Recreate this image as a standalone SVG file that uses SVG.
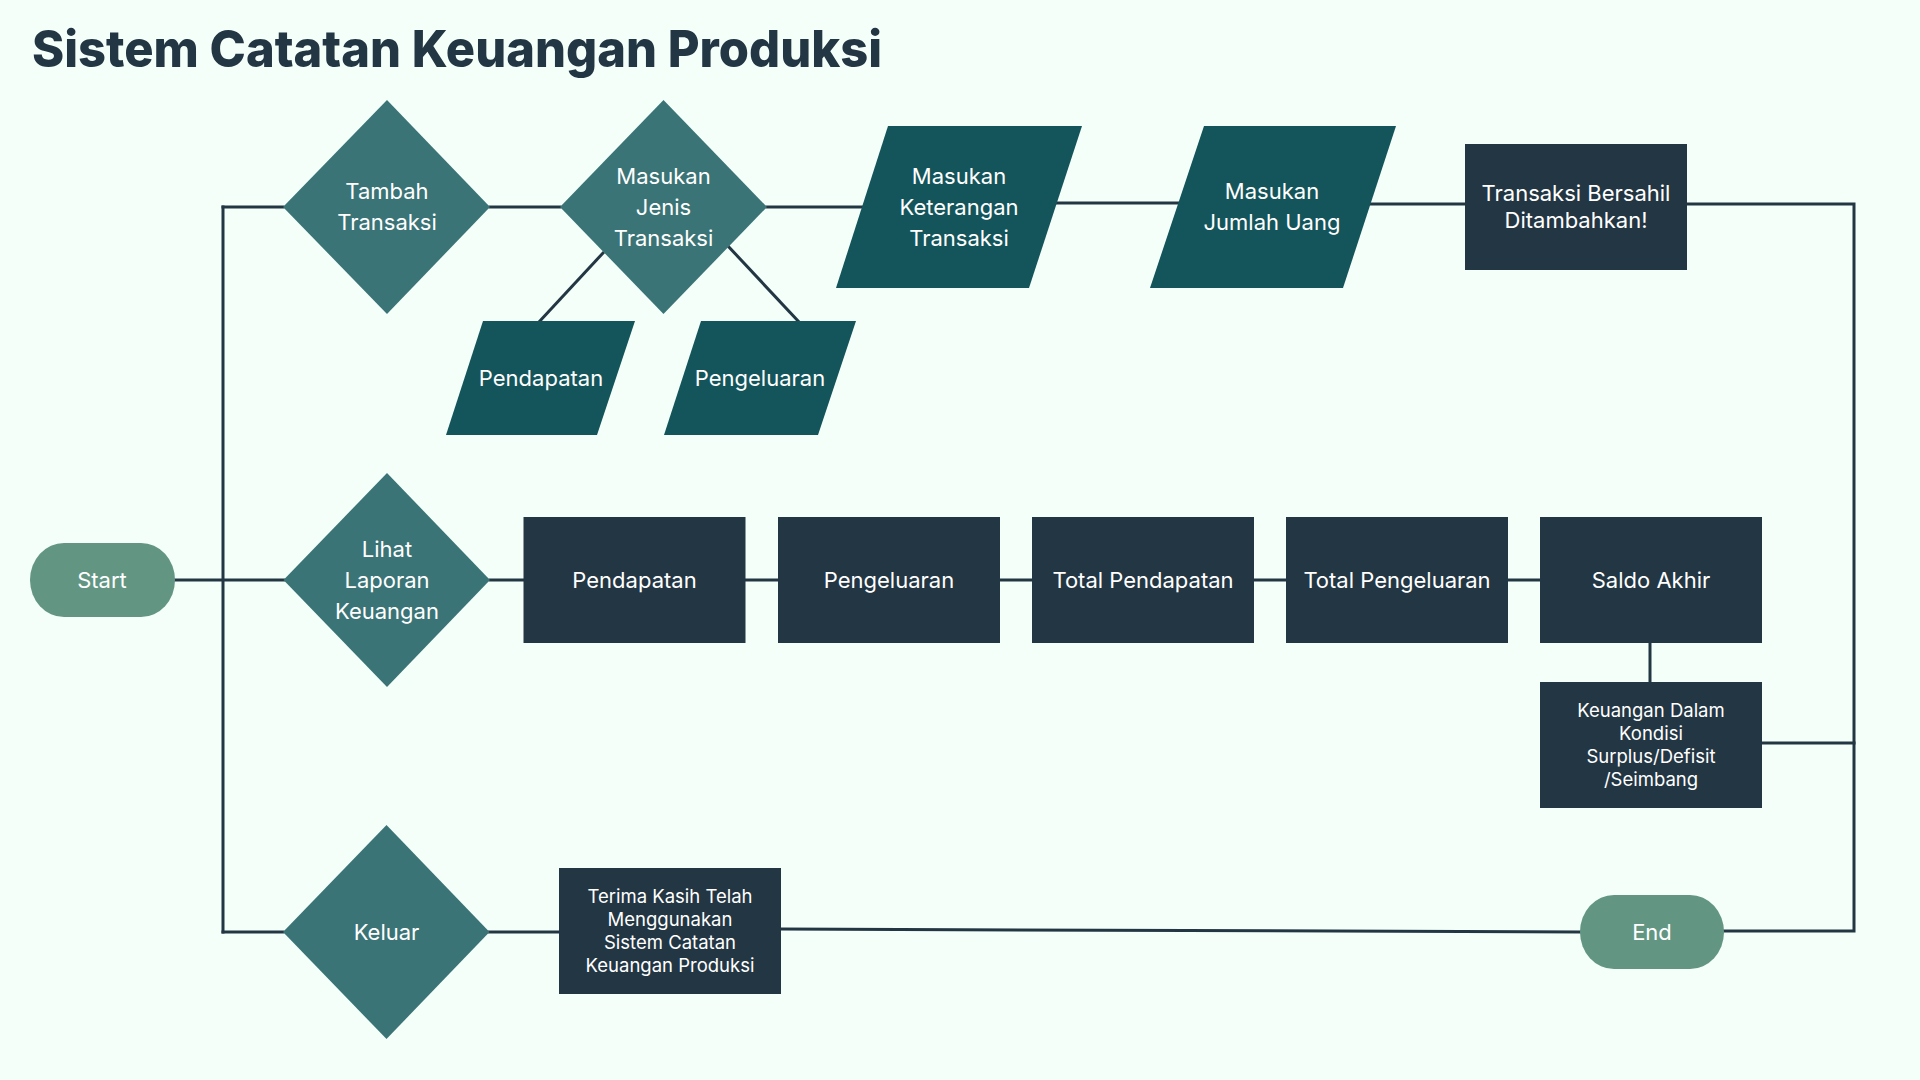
<svg xmlns="http://www.w3.org/2000/svg" width="1920" height="1080" viewBox="0 0 1920 1080">
<style>
.bg{fill:#F4FFF9}
.dia{fill:#3A7476}
.par{fill:#13555B}
.box{fill:#233643}
.pill{fill:#629683}
.ln{stroke:#233643;stroke-width:3;fill:none;stroke-linecap:square}
.t{font-family:Inter,"Liberation Sans",sans-serif;fill:#FFFFFF;text-anchor:middle;dominant-baseline:central;font-size:22px}
.s{font-size:18.5px}
.title{font-family:Inter,"Liberation Sans",sans-serif;font-weight:800;fill:#233643;font-size:51px}
</style>
<rect class="bg" x="0" y="0" width="1920" height="1080"/>
<text class="title" x="32" y="67" textLength="850" lengthAdjust="spacingAndGlyphs">Sistem Catatan Keuangan Produksi</text>

<g id="connectors">
<polyline class="ln" points="223,207 223,932"/>
<line class="ln" x1="223" y1="207" x2="283" y2="207"/>
<line class="ln" x1="490" y1="207" x2="560" y2="207"/>
<line class="ln" x1="767" y1="207" x2="862" y2="207"/>
<line class="ln" x1="1057" y1="203" x2="1178" y2="203"/>
<line class="ln" x1="1370" y1="204" x2="1465" y2="204"/>
<polyline class="ln" points="1687,204 1854,204 1854,931 1724,931"/>
<line class="ln" x1="1762" y1="743" x2="1854" y2="743"/>
<line class="ln" x1="1650" y1="643" x2="1650" y2="682"/>
<line class="ln" x1="603" y1="253" x2="540" y2="321"/>
<line class="ln" x1="728" y1="246" x2="798" y2="321"/>
<line class="ln" x1="175" y1="580" x2="284" y2="580"/>
<line class="ln" x1="490" y1="580" x2="524" y2="580"/>
<line class="ln" x1="745" y1="580" x2="778" y2="580"/>
<line class="ln" x1="1000" y1="580" x2="1032" y2="580"/>
<line class="ln" x1="1254" y1="580" x2="1286" y2="580"/>
<line class="ln" x1="1508" y1="580" x2="1540" y2="580"/>
<line class="ln" x1="223" y1="932" x2="283" y2="932"/>
<line class="ln" x1="489" y1="932" x2="559" y2="932"/>
<line class="ln" x1="781" y1="929" x2="1580" y2="932"/>
</g>

<g id="start">
<rect class="pill" x="30" y="543" width="145" height="74" rx="34" ry="37"/>
<text class="t" x="102" y="580">Start</text>
</g>
<g id="tambah">
<polygon class="dia" points="283,207 387,100 490,207 387,314"/>
<text class="t" x="387" y="191">Tambah</text>
<text class="t" x="387" y="222">Transaksi</text>
</g>
<g id="jenis">
<polygon class="dia" points="560,207 663.5,100 767,207 663.5,314"/>
<text class="t" x="663.5" y="176">Masukan</text>
<text class="t" x="663.5" y="207">Jenis</text>
<text class="t" x="663.5" y="238">Transaksi</text>
</g>
<g id="in-pendapatan">
<polygon class="par" points="483,321 635,321 597,435 446,435"/>
<text class="t" x="541" y="378">Pendapatan</text>
</g>
<g id="in-pengeluaran">
<polygon class="par" points="701,321 856,321 818,435 664,435"/>
<text class="t" x="760" y="378">Pengeluaran</text>
</g>
<g id="keterangan">
<polygon class="par" points="888,126 1082,126 1029,288 836,288"/>
<text class="t" x="959" y="176">Masukan</text>
<text class="t" x="959" y="207">Keterangan</text>
<text class="t" x="959" y="238">Transaksi</text>
</g>
<g id="jumlah">
<polygon class="par" points="1204,126 1396,126 1343,288 1150,288"/>
<text class="t" x="1272" y="191">Masukan</text>
<text class="t" x="1272" y="222">Jumlah Uang</text>
</g>
<g id="berhasil">
<rect class="box" x="1465" y="144" width="222" height="126"/>
<text class="t" x="1576" y="193">Transaksi Bersahil</text>
<text class="t" x="1576" y="220">Ditambahkan!</text>
</g>
<g id="lihat">
<polygon class="dia" points="283.5,580 387,473 490,580 387,687"/>
<text class="t" x="387" y="549">Lihat</text>
<text class="t" x="387" y="580">Laporan</text>
<text class="t" x="387" y="611">Keuangan</text>
</g>
<g id="pendapatan">
<rect class="box" x="523.5" y="517" width="222" height="126"/>
<text class="t" x="634.5" y="580">Pendapatan</text>
</g>
<g id="pengeluaran">
<rect class="box" x="778" y="517" width="222" height="126"/>
<text class="t" x="889" y="580">Pengeluaran</text>
</g>
<g id="total-pendapatan">
<rect class="box" x="1032" y="517" width="222" height="126"/>
<text class="t" x="1143" y="580">Total Pendapatan</text>
</g>
<g id="total-pengeluaran">
<rect class="box" x="1286" y="517" width="222" height="126"/>
<text class="t" x="1397" y="580">Total Pengeluaran</text>
</g>
<g id="saldo">
<rect class="box" x="1540" y="517" width="222" height="126"/>
<text class="t" x="1651" y="580">Saldo Akhir</text>
</g>
<g id="kondisi">
<rect class="box" x="1540" y="682" width="222" height="126"/>
<text class="t s" x="1651" y="710">Keuangan Dalam</text>
<text class="t s" x="1651" y="733">Kondisi</text>
<text class="t s" x="1651" y="756">Surplus/Defisit</text>
<text class="t s" x="1651" y="779">/Seimbang</text>
</g>
<g id="keluar">
<polygon class="dia" points="283,932 386.5,825 489.5,932 386.5,1039"/>
<text class="t" x="386.5" y="932">Keluar</text>
</g>
<g id="terima">
<rect class="box" x="559" y="868" width="222" height="126"/>
<text class="t s" x="670" y="896">Terima Kasih Telah</text>
<text class="t s" x="670" y="919">Menggunakan</text>
<text class="t s" x="670" y="942">Sistem Catatan</text>
<text class="t s" x="670" y="965">Keuangan Produksi</text>
</g>
<g id="end">
<rect class="pill" x="1580" y="895" width="144" height="74" rx="34" ry="37"/>
<text class="t" x="1652" y="932">End</text>
</g>
</svg>
